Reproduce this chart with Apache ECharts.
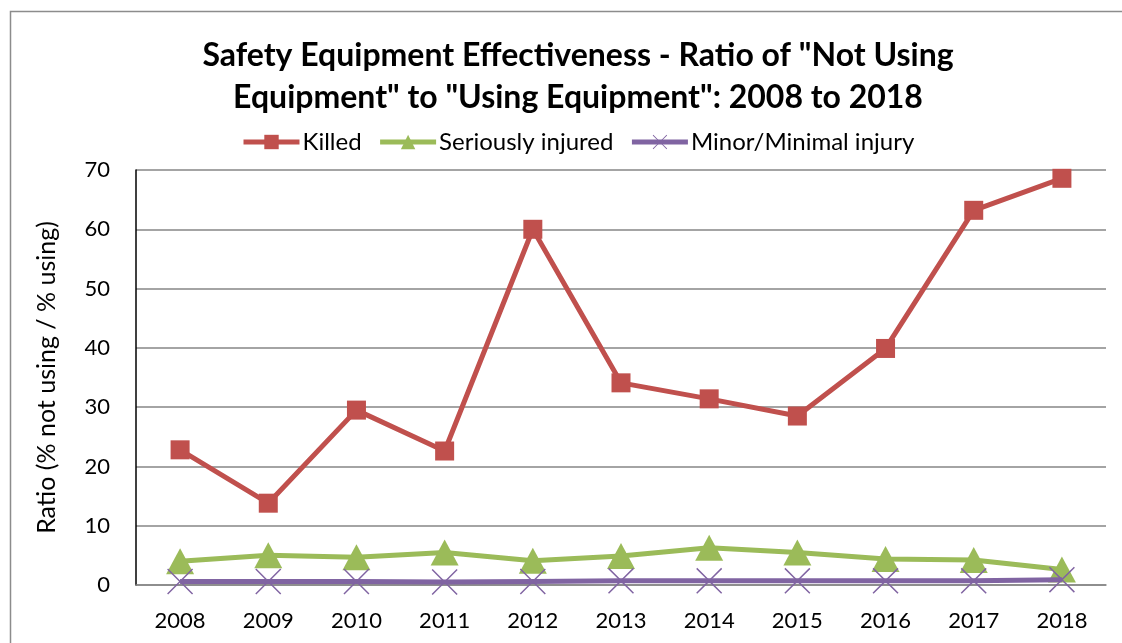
<!DOCTYPE html>
<html>
<head>
<meta charset="utf-8">
<script src="https://cdn.jsdelivr.net/npm/echarts@6/dist/echarts.min.js"></script>
<style>
html,body{margin:0;padding:0;background:#fff;}
#chart{width:1122px;height:643px;}
</style>
</head>
<body>
<div id="chart"></div>
<script>
const years = ['2008','2009','2010','2011','2012','2013','2014','2015','2016','2017','2018'];
const killed = [22.8, 13.8, 29.5, 22.6, 60.0, 34.1, 31.4, 28.5, 39.9, 63.2, 68.6];
const seriouslyInjured = [4.0, 5.0, 4.7, 5.5, 4.1, 4.9, 6.3, 5.5, 4.4, 4.2, 2.6];
const minorInjury = [0.6, 0.6, 0.6, 0.5, 0.6, 0.7, 0.7, 0.7, 0.7, 0.7, 0.9];
const yTicks = [0, 10, 20, 30, 40, 50, 60, 70];

const FONT = 'Lato';
const crossPath = 'path://M0,4L4,0L50,46L96,0L100,4L54,50L100,96L96,100L50,54L4,100L0,96L46,50Z';

const chart = echarts.init(document.getElementById('chart'), null, {renderer: 'canvas'});
chart.setOption({
  backgroundColor: '#ffffff',
  animation: false,
  textStyle: {fontFamily: FONT},
  title: {
    text: 'Safety Equipment Effectiveness - Ratio of "Not Using\nEquipment" to "Using Equipment": 2008 to 2018',
    left: 573,
    textAlign: 'center',
    top: 30,
    textStyle: {fontFamily: FONT, fontSize: 32, fontWeight: 'bold', color: '#000', lineHeight: 42}
  },
  legend: {
    top: 125,
    left: 236,
    itemWidth: 56,
    itemHeight: 18,
    itemGap: 16,
    lineStyle: {width: 5},
    textStyle: {fontFamily: FONT, fontSize: 24, color: '#000', padding: [0, 0, 0, -2]},
    data: ['Killed', 'Seriously injured', 'Minor/Minimal injury']
  },
  graphic: [{
    type: 'rect',
    shape: {x: 10.5, y: 11.5, width: 1300, height: 800},
    style: {fill: 'none', stroke: '#8c8c8c', lineWidth: 1.5},
    silent: true,
    z: -10
  }],
  grid: {left: 136, top: 170, width: 970, height: 415, containLabel: false},
  xAxis: {
    type: 'category',
    data: years,
    boundaryGap: true,
    axisLine: {show: true, lineStyle: {color: '#868686', width: 1.5}},
    axisTick: {show: false},
    axisLabel: {fontFamily: FONT, fontSize: 22, color: '#000', margin: 25}
  },
  yAxis: {
    type: 'value',
    min: yTicks[0],
    max: yTicks[yTicks.length - 1],
    interval: 10,
    name: 'Ratio (% not using / % using)',
    nameLocation: 'middle',
    nameGap: 77,
    nameTextStyle: {fontFamily: FONT, fontSize: 25, color: '#000'},
    axisLine: {show: true, lineStyle: {color: '#000', width: 1.5}},
    axisTick: {show: false},
    axisLabel: {fontFamily: FONT, fontSize: 22, color: '#000', margin: 26},
    splitLine: {show: true, lineStyle: {color: '#868686', width: 1.5}}
  },
  series: [
    {
      name: 'Killed',
      type: 'line',
      data: killed,
      symbol: 'rect',
      symbolSize: 19,
      lineStyle: {color: '#C0504D', width: 5},
      itemStyle: {color: '#C0504D'},
      z: 3
    },
    {
      name: 'Seriously injured',
      type: 'line',
      data: seriouslyInjured,
      symbol: 'triangle',
      symbolSize: [28, 26],
      lineStyle: {color: '#9BBB59', width: 5},
      itemStyle: {color: '#9BBB59'},
      z: 4
    },
    {
      name: 'Minor/Minimal injury',
      type: 'line',
      data: minorInjury,
      symbol: crossPath,
      symbolSize: 26,
      lineStyle: {color: '#8064A2', width: 5},
      itemStyle: {color: '#8064A2'},
      z: 5
    }
  ]
});
</script>
</body>
</html>
